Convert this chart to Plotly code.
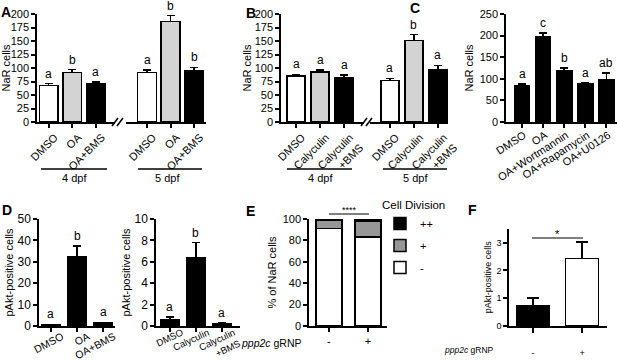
import plotly.graph_objects as go

# ---------------- data ----------------
A_cats = ["DMSO", "OA", "OA+BMS"]
A_4dpf = [68, 92, 70]
A_4dpf_err = [3, 5, 4]
A_4dpf_letters = ["a", "b", "a"]
A_5dpf = [92, 186, 95]
A_5dpf_err = [4, 11, 6]
A_5dpf_letters = ["a", "b", "b"]

B_cats = ["DMSO", "Calyculin", "Calyculin<br>+BMS"]
B_4dpf = [85, 93, 82]
B_4dpf_err = [3, 3, 5]
B_4dpf_letters = ["a", "a", "a"]
B_5dpf = [77, 151, 96]
B_5dpf_err = [4, 11, 9]
B_5dpf_letters = ["a", "b", "a"]

C_cats = ["DMSO", "OA", "OA+Wortmannin", "OA+Rapamycin", "OA+U0126"]
C_vals = [83, 198, 118, 89, 97]
C_err = [5, 8, 7, 2, 16]
C_letters = ["a", "c", "b", "a", "ab"]

D1_cats = ["DMSO", "OA", "OA+BMS"]
D1_vals = [0.5, 32.2, 1.3]
D1_err = [0.3, 5.3, 0.4]
D1_letters = ["a", "b", "a"]

D2_cats = ["DMSO", "Calyculin", "Calyculin<br>+BMS"]
D2_vals = [0.55, 6.4, 0.25]
D2_err = [0.3, 1.4, 0.05]
D2_letters = ["a", "b", "a"]

E_cats = ["-", "+"]
E_none = [91, 83]      # "-"
E_plus = [8, 15]       # "+"
E_plusplus = [1, 2]    # "++"

F_cats = ["-", "+"]
F_vals = [0.72, 2.42]
F_err = [0.28, 0.6]

# ---------------- layout helpers ----------------
W, H = 617, 360
FONT = "Liberation Sans, Arial, Helvetica, sans-serif"
WHITE, LGRAY, BLACK, DGRAY = "white", "#d3d3d3", "black", "#979797"


def px(x):
    return x / W


def py(y):
    return 1 - y / H


fig = go.Figure()
annotations = []
shapes = []


def add_bars(xa, ya, cats, vals, errs, colors, width, letters=None, lsize=12):
    fig.add_trace(go.Bar(
        x=cats, y=vals, xaxis=xa, yaxis=ya, width=width,
        marker=dict(color=colors, line=dict(color="black", width=1.5)),
        error_y=dict(type="data", array=errs, arrayminus=[0] * len(errs),
                     symmetric=False, color="black", thickness=1.5, width=4),
        showlegend=False))
    if letters:
        for c, v, e, t in zip(cats, vals, errs, letters):
            annotations.append(dict(
                x=c, y=v + e, xref=xa, yref=ya, text=t, showarrow=False,
                yanchor="bottom", yshift=1, font=dict(size=lsize, color="black", family=FONT)))


def xcfg(d0, d1, rng, anchor, angle, fs, standoff=None, shift=None):
    cfg = dict(domain=[px(d0), px(d1)], range=rng, anchor=anchor, type="category",
               showline=True, linecolor="black", linewidth=1.5,
               ticks="outside", ticklen=4, tickwidth=1.5, tickcolor="black",
               tickangle=angle, tickfont=dict(size=fs, color="black", family=FONT),
               showgrid=False, zeroline=False, fixedrange=True, automargin=False)
    if standoff is not None:
        cfg["ticklabelstandoff"] = standoff
    if shift is not None:
        cfg["ticklabelshift"] = shift
    return cfg


def ycfg(y0, y1, rng, dtick, anchor, title, fs, tfs, standoff=4):
    return dict(domain=[py(y0), py(y1)], range=rng, dtick=dtick, anchor=anchor,
                showline=True, linecolor="black", linewidth=1.5,
                ticks="outside", ticklen=4, tickwidth=1.5, tickcolor="black",
                tickfont=dict(size=fs, color="black", family=FONT),
                title=dict(text=title, font=dict(size=tfs, color="black", family=FONT), standoff=standoff),
                showgrid=False, zeroline=False, fixedrange=True, automargin=False)


def text(x, y, t, size=11, xanchor="center", yanchor="middle", bold=False):
    if bold:
        t = "<b>" + t + "</b>"
    annotations.append(dict(x=px(x), y=py(y), xref="paper", yref="paper", text=t,
                            showarrow=False, xanchor=xanchor, yanchor=yanchor,
                            font=dict(size=size, color="black", family=FONT)))


def hline(x0, x1, y, w=1.5):
    shapes.append(dict(type="line", xref="paper", yref="paper", x0=px(x0), x1=px(x1),
                       y0=py(y), y1=py(y), line=dict(color="black", width=w)))


def brk(x0, y):
    for dx in (0, 5):
        shapes.append(dict(type="line", xref="paper", yref="paper",
                           x0=px(x0 + dx), y0=py(y + 4), x1=px(x0 + dx + 6), y1=py(y - 4),
                           line=dict(color="black", width=1.5)))


colsA = [WHITE, LGRAY, BLACK]

# ---------------- Panel A ----------------
add_bars("x", "y", A_cats, A_4dpf, A_4dpf_err, colsA, 0.8, A_4dpf_letters)
add_bars("x2", "y", A_cats, A_5dpf, A_5dpf_err, colsA, 0.8, A_5dpf_letters)
# ---------------- Panel B ----------------
add_bars("x3", "y2", B_cats, B_4dpf, B_4dpf_err, colsA, 0.75, B_4dpf_letters)
add_bars("x4", "y2", B_cats, B_5dpf, B_5dpf_err, colsA, 0.75, B_5dpf_letters)
# ---------------- Panel C ----------------
add_bars("x5", "y3", C_cats, C_vals, C_err, [BLACK] * 5, 0.72, C_letters)
# ---------------- Panel D ----------------
add_bars("x6", "y4", D1_cats, D1_vals, D1_err, [BLACK] * 3, 0.73, D1_letters)
add_bars("x7", "y5", D2_cats, D2_vals, D2_err, [BLACK] * 3, 0.73, D2_letters)
# ---------------- Panel E ----------------
for rank, (name, vals, col) in enumerate([("-", E_none, WHITE), ("+", E_plus, DGRAY), ("++", E_plusplus, BLACK)]):
    fig.add_trace(go.Bar(x=E_cats, y=vals, xaxis="x8", yaxis="y6", width=0.67, name=name,
                         marker=dict(color=col, line=dict(color="black", width=1.5)),
                         legendgroup=name, legendrank=3 - rank, showlegend=True))
# ---------------- Panel F ----------------
fig.add_trace(go.Bar(x=F_cats, y=F_vals, xaxis="x9", yaxis="y7", width=0.67,
                     marker=dict(color=[BLACK, WHITE], line=dict(color="black", width=1.5)),
                     error_y=dict(type="data", array=F_err, arrayminus=[0, 0], symmetric=False,
                                  color="black", thickness=1.5, width=6),
                     showlegend=False))

# ---------------- axes ----------------
YA0, YA1 = 122, 14
YD0, YD1 = 326, 219
fig.update_layout(
    template="none",
    xaxis=xcfg(37, 114.5, [-0.5, 2.8], "y", -45, 11, standoff=-1, shift=6),
    xaxis2=xcfg(125.85, 205.75, [-0.9, 2.5], "y", -45, 11, standoff=-1, shift=6),
    yaxis=ycfg(YA0, YA1, [0, 200], 25, "x", "NaR cells", 11, 11),
    xaxis3=xcfg(281, 364, [-0.625, 2.83], "y2", -45, 11, standoff=-1, shift=6),
    xaxis4=xcfg(370, 448, [-0.83, 2.42], "y2", -45, 11, standoff=-1, shift=6),
    yaxis2=ycfg(YA0, YA1, [0, 200], 25, "x3", "NaR cells", 11, 11, standoff=1),
    xaxis5=xcfg(506, 617, [-0.76, 4.5], "y3", -33, 11, standoff=-3, shift=2),
    yaxis3=ycfg(YA0, YA1, [0, 250], 50, "x5", "NaR cells", 11, 11),
    xaxis6=xcfg(39, 115, [-0.46, 2.46], "y4", -28, 10.5, standoff=-5, shift=11),
    yaxis4=ycfg(YD0, YD1, [0, 50], 10, "x6", "pAkt-positive cells", 12, 11, standoff=2),
    xaxis7=xcfg(156, 240, [-0.54, 2.7], "y5", -25, 9.5, standoff=-8, shift=12),
    yaxis5=ycfg(YD0, YD1, [0, 10], 2, "x7", "pAkt-positive cells", 12, 11, standoff=2),
    xaxis8=xcfg(309, 387, [-0.51, 1.49], "y6", 0, 11),
    yaxis6=ycfg(YD0, YD1, [0, 100], 20, "x8", "% of NaR cells", 11, 11),
    xaxis9=xcfg(509, 607, [-0.49, 1.51], "y7", 0, 9, standoff=12),
    yaxis7=ycfg(YD0, 228.7, [0, 3.5], 1, "x9", "pAkt-positive cells", 9, 9, standoff=3),
)
fig.layout.xaxis9.ticklen = 5

# ---------------- decorations ----------------
text(6, 12, "A", 14, bold=True)
text(251, 13, "B", 14, bold=True)
text(415, 8, "C", 14, bold=True)
text(7, 210, "D", 14, bold=True)
text(250, 211, "E", 14, bold=True)
text(472, 210, "F", 14, bold=True)

brk(112, 122)
brk(361, 122)

hline(41, 107, 169)
hline(138, 202, 169)
hline(287, 352, 169)
hline(383, 447, 169)
text(74, 178, "4 dpf", 11)
text(167, 178, "5 dpf", 11)
text(320, 178, "4 dpf", 11)
text(415, 178, "5 dpf", 11)

hline(329, 369, 214, 1.2)
text(349, 210, "****", 9)
hline(532, 583, 238, 1.2)
text(557, 234, "*", 11)

text(304, 343, "<i>ppp2c</i> gRNP", 10.5, xanchor="right")
text(496, 350, "<i>ppp2c</i> gRNP", 8.5, xanchor="right")

fig.update_layout(
    width=W, height=H, margin=dict(l=0, r=0, t=0, b=0, autoexpand=False),
    paper_bgcolor="white", plot_bgcolor="white",
    barmode="stack", font=dict(family=FONT, color="black"),
    annotations=annotations, shapes=shapes,
    legend=dict(x=px(380), y=py(194), xanchor="left", yanchor="top",
                title=dict(text="Cell Division", font=dict(size=11.5, family=FONT, color="black")),
                traceorder="grouped", tracegroupgap=3, itemwidth=30,
                font=dict(size=11, family=FONT, color="black"), bgcolor="rgba(0,0,0,0)"),
)

fig.write_html("out.html", config={"displayModeBar": False},
               post_script="document.body.style.margin='0';")
